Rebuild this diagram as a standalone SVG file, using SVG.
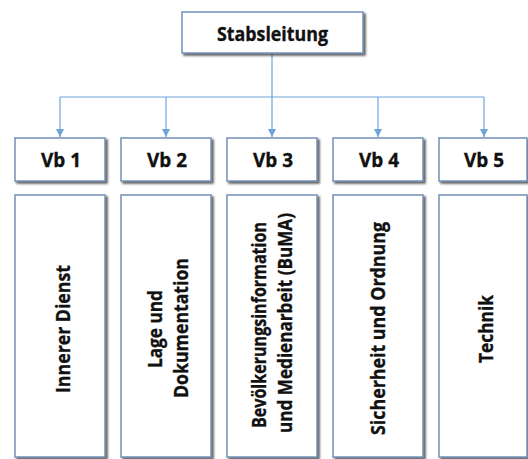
<svg xmlns="http://www.w3.org/2000/svg" width="528" height="459" viewBox="0 0 528 459">
<style>
.box{fill:#ffffff;stroke:#7390b8;stroke-width:1.5;filter:url(#sh)}
.t{font-family:"Open Sans","Liberation Sans",sans-serif;font-weight:bold;font-size:20px;fill:#111111;stroke:#111111;stroke-width:0.35}
.c{fill:none;stroke:#6fa3db;stroke-width:1.2}
</style>
<defs>
<filter id="sh" x="-10%" y="-10%" width="130%" height="130%">
<feDropShadow dx="2" dy="2" stdDeviation="1.2" flood-color="#222222" flood-opacity="0.75"/>
</filter>
<marker id="ah" viewBox="0 0 10 10" refX="10" refY="5" markerWidth="8" markerHeight="8" markerUnits="userSpaceOnUse" orient="auto">
<path d="M0,0 L10,5 L0,10 z" fill="#6fa3db"/>
</marker>
</defs>
<g id="connectors">
<line class="c" x1="272" y1="53" x2="272" y2="137" marker-end="url(#ah)"/>
<line class="c" x1="60" y1="97" x2="484" y2="97"/>
<line class="c" x1="60" y1="97" x2="60" y2="137" marker-end="url(#ah)"/>
<line class="c" x1="166" y1="97" x2="166" y2="137" marker-end="url(#ah)"/>
<line class="c" x1="378" y1="97" x2="378" y2="137" marker-end="url(#ah)"/>
<line class="c" x1="484" y1="97" x2="484" y2="137" marker-end="url(#ah)"/>
</g>
<g id="stabsleitung">
<rect class="box" x="182" y="12" width="181" height="41"/>
<text class="t" x="272.5" y="41" text-anchor="middle" textLength="111" lengthAdjust="spacingAndGlyphs">Stabsleitung</text>
</g>
<g id="vb1">
<rect class="box" x="15" y="138" width="90" height="43"/>
<text class="t" x="61" y="167" text-anchor="middle" textLength="40" lengthAdjust="spacingAndGlyphs">Vb 1</text>
</g>
<g id="vb2">
<rect class="box" x="121" y="138" width="90" height="43"/>
<text class="t" x="167" y="167" text-anchor="middle" textLength="40" lengthAdjust="spacingAndGlyphs">Vb 2</text>
</g>
<g id="vb3">
<rect class="box" x="227" y="138" width="90" height="43"/>
<text class="t" x="273" y="167" text-anchor="middle" textLength="40" lengthAdjust="spacingAndGlyphs">Vb 3</text>
</g>
<g id="vb4">
<rect class="box" x="333" y="138" width="90" height="43"/>
<text class="t" x="379" y="167" text-anchor="middle" textLength="40" lengthAdjust="spacingAndGlyphs">Vb 4</text>
</g>
<g id="vb5">
<rect class="box" x="439" y="138" width="88" height="43"/>
<text class="t" x="484" y="167" text-anchor="middle" textLength="40" lengthAdjust="spacingAndGlyphs">Vb 5</text>
</g>
<g id="innerer-dienst">
<rect class="box" x="15" y="195" width="90" height="262"/>
<text class="t" transform="translate(70,329) rotate(-90)" x="0" y="0" text-anchor="middle" textLength="128" lengthAdjust="spacingAndGlyphs">Innerer Dienst</text>
</g>
<g id="lage-und-dokumentation">
<rect class="box" x="121" y="195" width="90" height="262"/>
<text class="t" transform="translate(162,329) rotate(-90)" x="0" y="0" text-anchor="middle" textLength="78" lengthAdjust="spacingAndGlyphs">Lage und</text>
<text class="t" transform="translate(188,328) rotate(-90)" x="0" y="0" text-anchor="middle" textLength="140" lengthAdjust="spacingAndGlyphs">Dokumentation</text>
</g>
<g id="buma">
<rect class="box" x="227" y="195" width="90" height="262"/>
<text class="t" transform="translate(266,325) rotate(-90)" x="0" y="0" text-anchor="middle" textLength="206" lengthAdjust="spacingAndGlyphs">Bevölkerungsinformation</text>
<text class="t" transform="translate(292,323) rotate(-90)" x="0" y="0" text-anchor="middle" textLength="220" lengthAdjust="spacingAndGlyphs">und Medienarbeit (BuMA)</text>
</g>
<g id="sicherheit-und-ordnung">
<rect class="box" x="333" y="195" width="90" height="262"/>
<text class="t" transform="translate(385,328.5) rotate(-90)" x="0" y="0" text-anchor="middle" textLength="213" lengthAdjust="spacingAndGlyphs">Sicherheit und Ordnung</text>
</g>
<g id="technik">
<rect class="box" x="439" y="195" width="88" height="262"/>
<text class="t" transform="translate(493,329) rotate(-90)" x="0" y="0" text-anchor="middle" textLength="68" lengthAdjust="spacingAndGlyphs">Technik</text>
</g>
</svg>
